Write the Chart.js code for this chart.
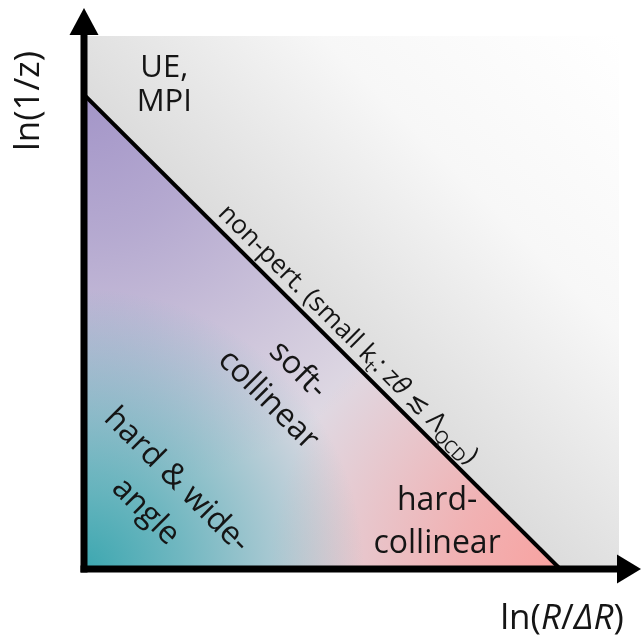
<!DOCTYPE html>
<html>
<head>
<meta charset="utf-8">
<script src="https://cdn.jsdelivr.net/npm/chart.js@4/dist/chart.umd.min.js"></script>
<style>
  html, body { margin: 0; padding: 0; background: #fff; overflow: hidden; }
  canvas { display: block; }
</style>
</head>
<body>
<canvas id="plane" width="641" height="640"></canvas>
<script>
// Emission plane: ln(R/ΔR) horizontally, ln(1/z) vertically (arbitrary log units)
const axisMin = 0;
const axisMax = 10;

// Non-perturbative boundary (k_t ~ Λ_QCD): straight line from the ln(1/z) axis to the ln(R/ΔR) axis
const boundaryX = [0, 8.9];
const boundaryY = [8.9, 0];

// Upper edge of the plane, filled down to the origin as the background region
const planeX = [0, 10];
const planeY = [10, 10];

// Text drawn on the plane
const xTitle = [{ t: 'ln(' }, { t: 'R', it: true }, { t: '/' }, { t: 'ΔR', it: true }, { t: ')' }];
const yTitle = [{ t: 'ln(1/z)' }];
const boundaryText = [
  { t: 'non-pert. (small k' }, { t: 't', sub: true }, { t: ': z' }, { t: 'θ', it: true },
  { t: ' ≲ Λ' }, { t: 'QCD', sub: true }, { t: ')' }
];
const regionText = {
  ue: ['UE,', 'MPI'],
  hardColl: ['hard-', 'collinear'],
  softColl: ['soft-', 'collinear'],
  wide: ['hard & wide-', 'angle']
};

const FONT = '"Open Sans", "Noto Sans", "DejaVu Sans", sans-serif';

function pt(chart, x, y) {
  return { x: chart.scales.x.getPixelForValue(x), y: chart.scales.y.getPixelForValue(y) };
}

// Soft three-colour shading of the perturbative triangle
let fillCache = null;
function triangleFill(chart) {
  if (!chart.chartArea) return 'rgba(0,0,0,0)';
  const key = chart.width + 'x' + chart.height;
  if (fillCache && fillCache.key === key) return fillCache.pattern;
  const cv = document.createElement('canvas');
  cv.width = chart.width; cv.height = chart.height;
  const g = cv.getContext('2d');
  const top = pt(chart, boundaryX[0], boundaryY[0]);
  const right = pt(chart, boundaryX[1], boundaryY[1]);
  const corner = pt(chart, 0, 0);
  g.fillStyle = '#dfd9e3';
  g.fillRect(0, 0, cv.width, cv.height);
  const blob = (p, r, c, mid) => {
    const rg = g.createRadialGradient(p.x, p.y, 0, p.x, p.y, r);
    rg.addColorStop(0, `rgba(${c},1)`);
    rg.addColorStop(0.35, `rgba(${c},${mid})`);
    rg.addColorStop(1, `rgba(${c},0)`);
    g.fillStyle = rg;
    g.fillRect(0, 0, cv.width, cv.height);
  };
  blob(top, 400, '163,149,200', 0.7);
  blob(right, 290, '248,162,160', 0.72);
  blob(corner, 280, '60,167,176', 0.68);
  const pattern = chart.ctx.createPattern(cv, 'no-repeat');
  fillCache = { key, pattern };
  return pattern;
}

// Grey background fading to white away from the boundary
function planeFill(chart) {
  if (!chart.chartArea) return '#e5e5e5';
  const top = pt(chart, boundaryX[0], boundaryY[0]);
  const right = pt(chart, boundaryX[1], boundaryY[1]);
  const far = pt(chart, axisMax, axisMax);
  const dx = right.x - top.x, dy = right.y - top.y;
  const len2 = dx * dx + dy * dy;
  const t = ((far.x - top.x) * dx + (far.y - top.y) * dy) / len2;
  const foot = { x: top.x + t * dx, y: top.y + t * dy };
  const lg = chart.ctx.createLinearGradient(foot.x, foot.y, far.x, far.y);
  lg.addColorStop(0, '#dcdcdc');
  lg.addColorStop(0.15, '#e4e4e4');
  lg.addColorStop(0.5, '#f7f7f7');
  lg.addColorStop(1, '#ffffff');
  return lg;
}

// Draw a run of mixed-style text; returns its width
function runsWidth(ctx, runs, size) {
  let w = 0;
  for (const r of runs) {
    const s = r.sub ? size * 0.68 : size;
    ctx.font = `${r.it ? 'italic ' : ''}${s}px ${FONT}`;
    w += ctx.measureText(r.t).width;
  }
  return w;
}
function drawRuns(ctx, runs, size, x, y, align) {
  const w = runsWidth(ctx, runs, size);
  let cx = align === 'center' ? x - w / 2 : x;
  ctx.textBaseline = 'alphabetic';
  ctx.textAlign = 'left';
  for (const r of runs) {
    const s = r.sub ? size * 0.68 : size;
    ctx.font = `${r.it ? 'italic ' : ''}${s}px ${FONT}`;
    ctx.fillText(r.t, cx, y + (r.sub ? size * 0.22 : 0));
    cx += ctx.measureText(r.t).width;
  }
}
function drawBlock(ctx, lines, size, gap, px, py, angle) {
  ctx.save();
  ctx.translate(px, py);
  ctx.rotate(angle);
  ctx.font = `${size}px ${FONT}`;
  ctx.textAlign = 'center';
  ctx.textBaseline = 'middle';
  const n = lines.length;
  lines.forEach((s, i) => ctx.fillText(s, 0, (i - (n - 1) / 2) * gap));
  ctx.restore();
}

const axesPlugin = {
  id: 'arrowAxes',
  afterDatasetsDraw(chart) {
    const { ctx, chartArea: a } = chart;
    ctx.save();
    ctx.fillStyle = '#000';
    const w = 7;
    // shafts
    ctx.fillRect(a.left - w / 2, a.top - 2, w, a.bottom - a.top + 2 + w / 2);
    ctx.fillRect(a.left - w / 2, a.bottom - w / 2, a.right - a.left + w / 2 - 2, w);
    // arrow heads
    ctx.beginPath();
    ctx.moveTo(a.left, a.top - 28);
    ctx.lineTo(a.left + 14.5, a.top - 1);
    ctx.lineTo(a.left - 14.5, a.top - 1);
    ctx.closePath();
    ctx.fill();
    ctx.beginPath();
    ctx.moveTo(a.right + 22, a.bottom);
    ctx.lineTo(a.right - 2, a.bottom - 14.5);
    ctx.lineTo(a.right - 2, a.bottom + 14.5);
    ctx.closePath();
    ctx.fill();
    ctx.restore();
  }
};

const labelsPlugin = {
  id: 'planeLabels',
  afterDraw(chart) {
    const { ctx, chartArea: a } = chart;
    ctx.save();
    ctx.fillStyle = '#151515';
    const diag = Math.PI / 4;

    // axis titles
    drawRuns(ctx, xTitle, 35, a.right - 57, a.bottom + 60, 'center');
    ctx.save();
    ctx.translate(a.left - 45, a.top + 65);
    ctx.rotate(-Math.PI / 2);
    drawRuns(ctx, yTitle, 35, 0, 0, 'center');
    ctx.restore();

    // boundary label, just above the line
    const top = pt(chart, boundaryX[0], boundaryY[0]);
    const right = pt(chart, boundaryX[1], boundaryY[1]);
    const ang = Math.atan2(right.y - top.y, right.x - top.x);
    const f = 0.53;
    const mx = top.x + (right.x - top.x) * f, my = top.y + (right.y - top.y) * f;
    ctx.save();
    ctx.translate(mx, my);
    ctx.rotate(ang);
    drawRuns(ctx, boundaryText, 26, 0, -9, 'center');
    ctx.restore();

    // region names
    const ue = pt(chart, 1.5, 9.08);
    drawBlock(ctx, regionText.ue, 31, 34, ue.x, ue.y, 0);
    const hc = pt(chart, 6.6, 0.87);
    drawBlock(ctx, regionText.hardColl, 32, 43, hc.x, hc.y, 0);
    const sc = pt(chart, 3.72, 3.45);
    drawBlock(ctx, regionText.softColl, 32, 42, sc.x, sc.y, diag);
    const wa = pt(chart, 1.44, 1.37);
    drawBlock(ctx, regionText.wide, 32, 44, wa.x, wa.y, diag);
    ctx.restore();
  }
};

new Chart(document.getElementById('plane'), {
  type: 'scatter',
  data: {
    datasets: [
      {
        label: 'perturbative',
        data: boundaryX.map((x, i) => ({ x, y: boundaryY[i] })),
        showLine: true,
        borderColor: '#000',
        borderWidth: 4,
        pointRadius: 0,
        fill: 'origin',
        backgroundColor: (c) => triangleFill(c.chart),
        order: 1
      },
      {
        label: 'plane',
        data: planeX.map((x, i) => ({ x, y: planeY[i] })),
        showLine: true,
        borderWidth: 0,
        borderColor: 'rgba(0,0,0,0)',
        pointRadius: 0,
        fill: 'origin',
        backgroundColor: (c) => planeFill(c.chart),
        order: 2
      }
    ]
  },
  options: {
    responsive: false,
    animation: false,
    devicePixelRatio: 1,
    events: [],
    layout: { padding: { left: 84, top: 36, right: 22, bottom: 71 } },
    scales: {
      x: { type: 'linear', min: axisMin, max: axisMax, display: false },
      y: { type: 'linear', min: axisMin, max: axisMax, display: false }
    },
    plugins: { legend: { display: false }, tooltip: { enabled: false } }
  },
  plugins: [axesPlugin, labelsPlugin]
});
</script>
</body>
</html>
